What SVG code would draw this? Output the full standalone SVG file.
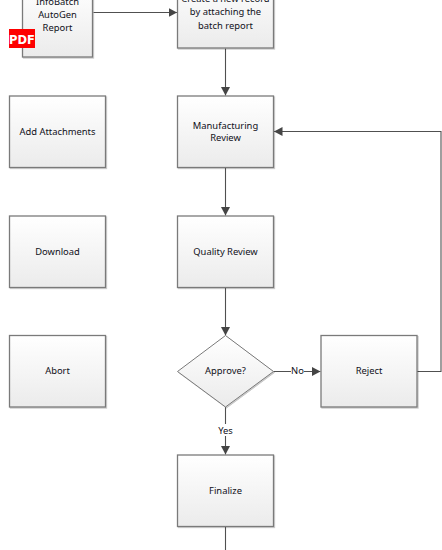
<svg xmlns="http://www.w3.org/2000/svg" width="442" height="550" viewBox="0 0 442 550">
<defs>
<linearGradient id="g" x1="0" y1="0" x2="0" y2="1"><stop offset="0" stop-color="#ffffff"/><stop offset="1" stop-color="#ebebeb"/></linearGradient>
<filter id="s" x="-5%" y="-5%" width="112%" height="112%"><feDropShadow dx="1" dy="1" stdDeviation="0.7" flood-color="#000" flood-opacity="0.22"/></filter>
<marker id="a" markerUnits="userSpaceOnUse" markerWidth="10" markerHeight="10" refX="8.5" refY="4.5" orient="auto"><path d="M0,0L8.5,4.5L0,9Z" fill="#454545"/></marker>
</defs>
<style>
.b{fill:url(#g);stroke:#7a7a7a;stroke-width:1.3;filter:url(#s)}
.d{fill:url(#g);stroke:#7a7a7a;stroke-width:1;filter:url(#s)}
.t{font-family:"Noto Sans","Open Sans",sans-serif;font-size:9.4px;fill:#101020;text-anchor:middle}
.c{fill:none;stroke:#505050;stroke-width:1.1}
.l{fill:#fff;stroke:none}
</style>
<g id="connectors">
<path class="c" d="M93.5,12.5H177" marker-end="url(#a)"/>
<path class="c" d="M225.5,48.5V95.5" marker-end="url(#a)"/>
<path class="c" d="M225.5,167.5V215.5" marker-end="url(#a)"/>
<path class="c" d="M225.5,287.5V335.5" marker-end="url(#a)"/>
<path class="c" d="M273.5,371.5H320.5" marker-end="url(#a)"/>
<path class="c" d="M225.5,407V454.5" marker-end="url(#a)"/>
<path class="c" d="M417,371.5H441V131.5H274" marker-end="url(#a)"/>
<path class="c" d="M225.5,527V550"/>
<rect class="l" x="291" y="365" width="13" height="12"/>
<rect class="l" x="217" y="424" width="17" height="12"/>
<text class="t" x="297.5" y="374">No</text>
<text class="t" x="225.5" y="433.5">Yes</text>
</g>
<g id="n-infobatch"><rect class="b" x="22.5" y="-14.5" width="70" height="71.5"/>
<text class="t" x="57.5" y="5">InfoBatch</text><text class="t" x="57.5" y="18">AutoGen</text><text class="t" x="57.5" y="31">Report</text></g>
<g id="n-pdf"><rect x="9" y="29" width="26" height="19" fill="#fe0000"/><text x="22" y="43.5" font-family="'DejaVu Sans',sans-serif" font-weight="700" font-size="11.5px" fill="#fff" text-anchor="middle">PDF</text></g>
<g id="n-create"><rect class="b" x="177.5" y="-24" width="96" height="72"/>
<text class="t" x="225.5" y="2">Create a new record</text><text class="t" x="225.5" y="15">by attaching the</text><text class="t" x="225.5" y="28.5">batch report</text></g>
<g id="n-attach"><rect class="b" x="9.5" y="96" width="96" height="71.5"/><text class="t" x="57.5" y="135">Add Attachments</text></g>
<g id="n-mfg"><rect class="b" x="177.5" y="96" width="96" height="71.5"/><text class="t" x="225.5" y="129">Manufacturing</text><text class="t" x="225.5" y="141">Review</text></g>
<g id="n-download"><rect class="b" x="9.5" y="216" width="96" height="71.5"/><text class="t" x="57.5" y="255">Download</text></g>
<g id="n-quality"><rect class="b" x="177.5" y="216" width="96" height="71.5"/><text class="t" x="225.5" y="255">Quality Review</text></g>
<g id="n-abort"><rect class="b" x="9.5" y="335.5" width="96" height="71.5"/><text class="t" x="57.5" y="374">Abort</text></g>
<g id="n-approve"><path class="d" d="M225.5,335.5L273.5,371.5L225.5,407L177.5,371.5Z"/><text class="t" x="225.5" y="374">Approve?</text></g>
<g id="n-reject"><rect class="b" x="321" y="335.5" width="96" height="71.5"/><text class="t" x="369" y="374">Reject</text></g>
<g id="n-finalize"><rect class="b" x="177.5" y="455" width="96" height="71.5"/><text class="t" x="225.5" y="494">Finalize</text></g>
</svg>
